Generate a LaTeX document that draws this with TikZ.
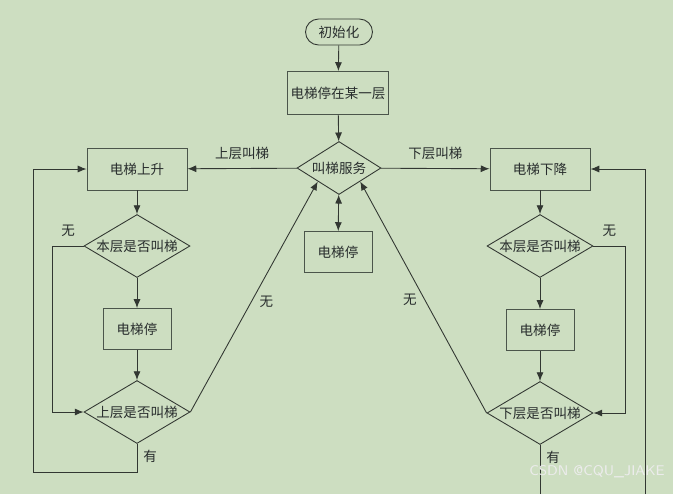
\documentclass[tikz,border=0pt]{standalone}
\usepackage{fontspec}
\newfontfamily\cjk{Noto Sans CJK SC}
\usetikzlibrary{shapes.geometric,arrows.meta}
\definecolor{bggreen}{RGB}{205,222,193}
\definecolor{lineg}{RGB}{50,55,50}
\definecolor{boxg}{RGB}{75,85,75}
\definecolor{txtg}{RGB}{40,45,45}

\tikzset{
	box/.style={draw=boxg, line width=0.55pt, minimum width=2cm, minimum height=0.84cm, inner sep=0pt},
	smallbox/.style={box, minimum width=1.36cm, minimum height=0.82cm},
	startbox/.style={draw=lineg, line width=0.5pt, rounded corners=0.26cm, minimum width=1.34cm, minimum height=0.52cm, inner sep=0pt},
	decision/.style={draw=lineg, line width=0.5pt, diamond, aspect=1.68, inner sep=0pt, minimum width=2.12cm, minimum height=1.26cm},
	flow/.style={draw=lineg, line width=0.5pt}
}

\begin{document}
\begin{tikzpicture}[x=0.02cm, y=-0.02cm, font=\cjk\fontsize{7.7}{9}\selectfont, text=txtg, >={Latex[length=5pt,width=4pt]}]
		%%%%% START %%%%%
		
		\fill[bggreen] (0, 0) rectangle (673, 494);
		\useasboundingbox (0, 0) rectangle (673, 494);
		
		\node[startbox] (init) at (339, 32) {初始化};
		\node[box, minimum width=2.02cm, minimum height=0.86cm] (floor) at (338, 93) {电梯停在某一层};
		\node[decision, minimum width=1.68cm, minimum height=1.06cm] (serve) at (339, 168) {叫梯服务};
		\node[smallbox] (stopm) at (338, 252) {电梯停};
		
		\node[box] (up) at (137, 169) {电梯上升};
		\node[decision] (hereup) at (137, 246) {本层是否叫梯};
		\node[smallbox] (stopl) at (137, 329) {电梯停};
		\node[decision] (above) at (137, 412) {上层是否叫梯};
		
		\node[box] (down) at (540, 169) {电梯下降};
		\node[decision] (heredown) at (540, 246) {本层是否叫梯};
		\node[smallbox] (stopr) at (540, 330) {电梯停};
		\node[decision] (below) at (540, 413) {下层是否叫梯};
		
		\coordinate (belowend) at (540, 494);
		\coordinate (loopr) at (645, 494);
		
		\draw[flow, ->] (init) -- (floor);
		\draw[flow, ->] (floor) -- (serve);
		\draw[flow, ->] (serve) -- node[above=1.5pt] {上层叫梯} (up);
		\draw[flow, ->] (serve) -- node[above=1.5pt] {下层叫梯} (down);
		\draw[flow, <->] (serve) -- (stopm);
		
		\draw[flow, ->] (up) -- (hereup);
		\draw[flow, ->] (hereup) -- (stopl);
		\draw[flow, ->] (stopl) -- (above);
		\draw[flow, ->] (hereup.west) -- node[above=2pt] {无} ++(-31, 0) |- (above.west);
		\draw[flow, ->] (above.south) -- node[right, pos=0.43] {有} ++(0, 28) -- ++(-104, 0) |- (up.west);
		\draw[flow, ->] (above.east) -- node[right=1pt, pos=0.48] {无} (serve.south west);
		
		\draw[flow, ->] (down) -- (heredown);
		\draw[flow, ->] (heredown) -- (stopr);
		\draw[flow, ->] (stopr) -- (below);
		\draw[flow, ->] (heredown.east) -- node[above=2pt] {无} ++(32, 0) |- (below.east);
		\draw[flow] (below.south) -- node[right, pos=0.26] {有} (belowend);
		\draw[flow, ->] (loopr) |- (down.east);
		\draw[flow, ->] (below.west) -- node[left=1pt, pos=0.49] {无} (serve.south east);
		
		\node[text=white!85!gray, font=\sffamily\fontsize{8}{9}\selectfont] (mark) at (597, 472) {CSDN @CQU\_JIAKE};
		
		%%%%% END %%%%%
	\end{tikzpicture}
\end{document}
